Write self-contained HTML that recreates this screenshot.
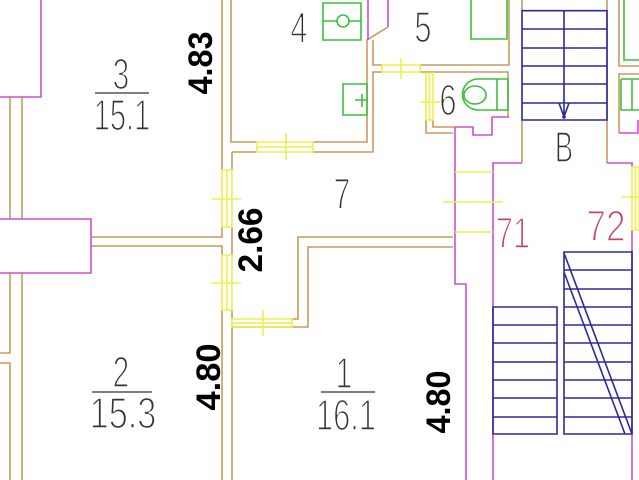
<!DOCTYPE html>
<html><head><meta charset="utf-8"><style>
html,body{margin:0;padding:0;background:#fff;}
svg{display:block;}
.t{stroke:#c99a5c;stroke-width:1.6;fill:none;}
.m{stroke:#cf4fcf;stroke-width:1.6;fill:none;}
.g{stroke:#3cc03c;stroke-width:1.6;fill:none;}
.b{stroke:#2a2a9c;stroke-width:1.6;fill:none;}
.y{stroke:#eeee50;stroke-width:1.6;fill:none;}
.lbl{font-family:"Liberation Sans",sans-serif;font-size:44px;fill:#333;stroke:#fff;stroke-width:1.6;}
.red{fill:#c8405a;}
.dim{font-family:"Liberation Sans",sans-serif;font-weight:bold;font-size:34px;fill:#000;}
</style></head><body>
<svg width="639" height="480" viewBox="0 0 639 480" xmlns="http://www.w3.org/2000/svg">
<!-- tan walls -->
<path class="t" d="M10 97V219M22 97V219M10 273V353H0M0 363H10V480M22 273V480
M91 237H222V227M91 246H222V255M222 0V170M222 310V480
M231 0V142H257M313 142H367V40L388 27
M232 152V170M232 227V255M232 310V319
M232 152H257M313 152H373V72H382M373 40V65H382M420 65H509V0M420 72H508V117
M426 120V133H453M433 120V127H455
M292 319H298V237H453M232 480V327H308V247H453
M522 0V10M522 120V163M607 0V163M619 0V66H639M639 74H619V133"/>
<!-- magenta -->
<path class="m" d="M0 97H41V0M0 219H91V273H0M368 0V40M388 0V27
M455 127H473V135H492V117H509M455 127V284H466V480M493 480V163H522
M607 163H632V167M632 230V480M619 133H638V120"/>
<!-- green fixtures -->
<path class="g" d="M323 3H361V40H323ZM323 21H337M349 21H361M343 84H367V115H343ZM355 100H367M362 94V107
M471 0V39H507V0M508 79H478A15.5 15.5 0 0 0 478 110H508ZM497 79V110
M624 0V60H640M621 79H640M621 79V110H640M632 79V110"/>
<circle class="g" cx="343" cy="21" r="6"/>
<ellipse class="g" cx="475" cy="95" rx="11" ry="9"/>
<!-- yellow windows / doors -->
<path class="y" d="M257 142H313V152H257ZM257 147H313M286 133V160
M382 65H420V72H382ZM401 58V79
M426 73H433V120H426ZM429.5 73V120M420 102H440
M222 170H232V227H222ZM227 170V227M212 199H241
M222 255H232V310H222ZM227 255V310M212 283H241
M232 319H292V327H232ZM232 323H292M263 310V336
M455 172H493M443 202H503M455 232H493
M632 167H639V230H632ZM635.5 167V230M622 197H639"/>
<!-- stairs -->
<path class="b" d="M522 10.7H607V120H522ZM522 29H607M522 48H607M522 66H607M522 84H607M522 103H607
M564 10.7V117M559 103L564 117L569 103
M493 307H557V434H493ZM493 325H557M493 343H557M493 362H557M493 380H557M493 398H557M493 417H557
M564 252H632V434H564ZM564 270H632M564 289H632M564 307H632M564 325H632M564 343H632M564 362H632M564 380H632M564 398H632M564 417H632
M564 253L632 434M564 272L625 434"/>
<circle cx="564" cy="117" r="1.8" fill="#2a2a9c"/>
<!-- fraction lines -->
<path d="M95 93H149M92 392H152M321 392H375" stroke="#333" stroke-width="1.3"/>
<!-- room labels -->
<g class="lbl">
<text transform="translate(121 89) scale(0.68 1)" text-anchor="middle">3</text>
<text transform="translate(122 130) scale(0.66 1)" text-anchor="middle">15.1</text>
<text transform="translate(121 387) scale(0.68 1)" text-anchor="middle">2</text>
<text transform="translate(123 428) scale(0.78 1)" text-anchor="middle">15.3</text>
<text transform="translate(344 388) scale(0.68 1)" text-anchor="middle">1</text>
<text transform="translate(346 430) scale(0.7 1)" text-anchor="middle">16.1</text>
<text transform="translate(342 209) scale(0.68 1)" text-anchor="middle">7</text>
<text transform="translate(299 43) scale(0.7 1)" text-anchor="middle">4</text>
<text transform="translate(423 42) scale(0.7 1)" text-anchor="middle">5</text>
<text transform="translate(448 115) scale(0.7 1)" text-anchor="middle">6</text>
<text transform="translate(564 162) scale(0.62 1)" text-anchor="middle">B</text>
<text class="red" transform="translate(513 248) scale(0.7 1)" text-anchor="middle">71</text>
<text class="red" transform="translate(606 241) scale(0.8 1)" text-anchor="middle">72</text>
</g>
<!-- dimensions -->
<text class="dim" transform="translate(212 63) rotate(-90)" text-anchor="middle" textLength="63" lengthAdjust="spacingAndGlyphs">4.83</text>
<text class="dim" transform="translate(262 240) rotate(-90)" text-anchor="middle" font-size="31" textLength="65" lengthAdjust="spacingAndGlyphs">2.66</text>
<text class="dim" transform="translate(220 377) rotate(-90)" text-anchor="middle" textLength="67" lengthAdjust="spacingAndGlyphs">4.80</text>
<text class="dim" transform="translate(450 402) rotate(-90)" text-anchor="middle" textLength="63" lengthAdjust="spacingAndGlyphs">4.80</text>
</svg>
</body></html>
